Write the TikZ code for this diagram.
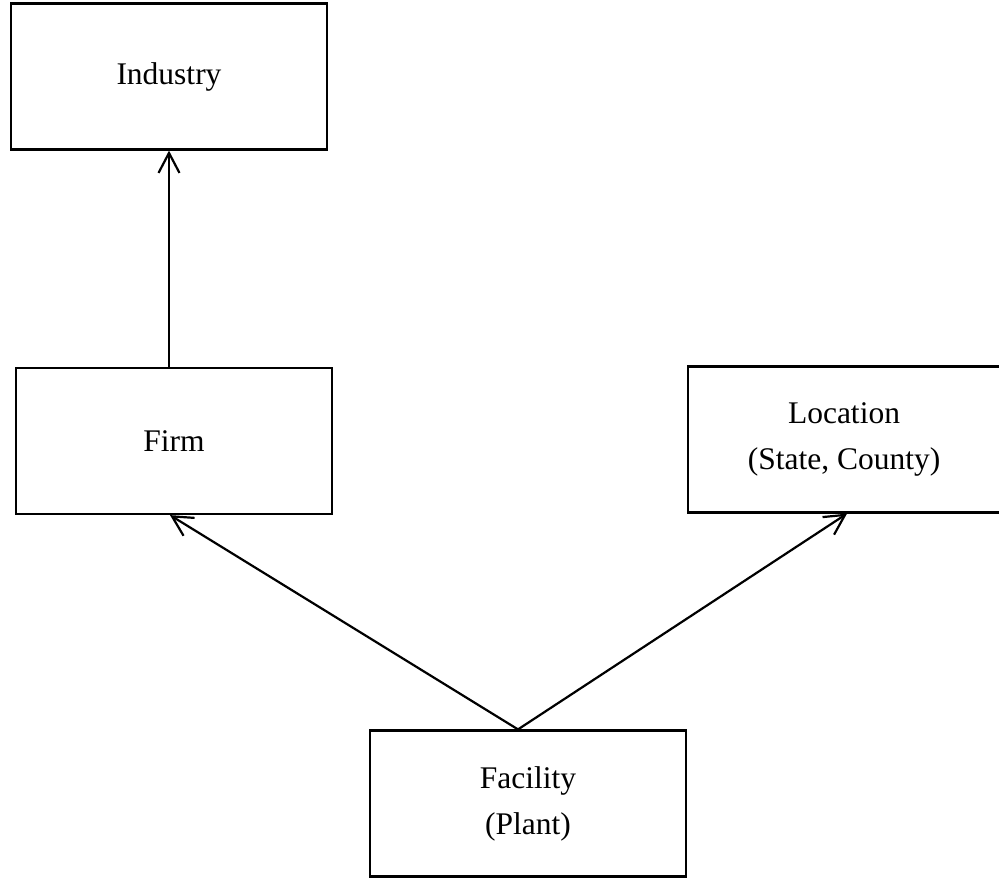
\documentclass[tikz,border=0pt]{standalone}
\usepackage{fontspec}
\setmainfont{Liberation Serif}
\usetikzlibrary{arrows.meta}
\begin{document}
\begin{tikzpicture}[x=1pt,y=-1pt,
  box/.style={draw, line width=2.2pt, inner sep=0pt, minimum width=316pt, minimum height=146pt, align=center, font=\fontsize{31.5}{46}\selectfont},
  conn/.style={line width=2.2pt, -{Straight Barb[length=20pt,width=21pt,line width=2.2pt]}}]
\useasboundingbox (0,0) rectangle (999,878);
\node[box] (ind) at (169,76.5) {Industry};
\node[box] (firm) at (174,441) {Firm};
\node[box, minimum width=312pt] (loc) at (844,439.5) {Location\\(State, County)};
\node[box] (fac) at (528,803.5) {Facility\\(Plant)};
\draw[conn] ([xshift=-5pt]firm.north) -- (ind.south);
\draw[conn] ([xshift=-10pt]fac.north) -- ([xshift=-4pt]firm.south);
\draw[conn] ([xshift=-10pt]fac.north) -- ([xshift=3pt]loc.south);
\end{tikzpicture}
\end{document}
